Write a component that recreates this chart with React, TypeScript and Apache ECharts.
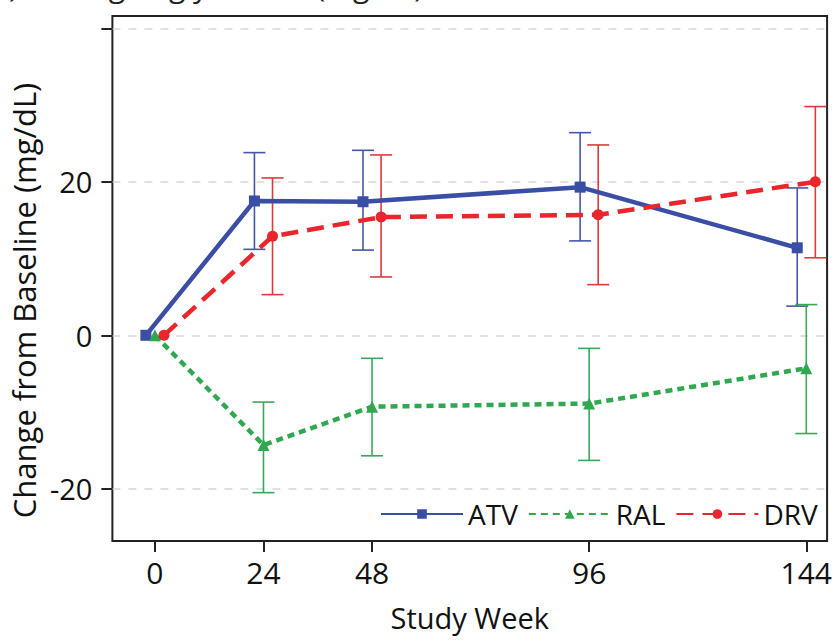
import React, { useEffect, useRef } from "react";
import * as echarts from "echarts";

const weeks = [0, 24, 48, 96, 144];
const seriesNames = ["ATV", "RAL", "DRV"];

const atvMean = [0, 17.5, 17.4, 19.3, 11.4];
const atvLow = [null, 11.2, 11.1, 12.3, 3.8];
const atvHigh = [null, 23.8, 24.1, 26.4, 19.2];

const ralMean = [0, -14.3, -9.3, -8.9, -4.3];
const ralLow = [null, -20.5, -15.7, -16.3, -12.8];
const ralHigh = [null, -8.7, -3.0, -1.7, 4.0];

const drvMean = [0, 12.9, 15.4, 15.7, 20.0];
const drvLow = [null, 5.3, 7.6, 6.6, 10.1];
const drvHigh = [null, 20.5, 23.5, 24.8, 29.8];

const yTicks = [-20, 0, 20, 40];
const yLabels = [-20, 0, 20];

const FONT = '"Open Sans", "Noto Sans", sans-serif';

type Cfg = {
  name: string;
  mean: number[];
  low: (number | null)[];
  high: (number | null)[];
  offset: number;
  color: string;
  errColor: string;
  lineType: any;
  symbol: string;
  symbolSize: number;
};

const cfgs: Cfg[] = [
  { name: seriesNames[0], mean: atvMean, low: atvLow, high: atvHigh, offset: -2, color: "#3b4ea6", errColor: "#4656a8", lineType: "solid", symbol: "rect", symbolSize: 11 },
  { name: seriesNames[1], mean: ralMean, low: ralLow, high: ralHigh, offset: 0, color: "#2fa84f", errColor: "#3aa85a", lineType: [7, 5], symbol: "triangle", symbolSize: 12 },
  { name: seriesNames[2], mean: drvMean, low: drvLow, high: drvHigh, offset: 2, color: "#e8262b", errColor: "#e0383c", lineType: [17, 9], symbol: "circle", symbolSize: 11 },
];

export default function App() {
  const ref = useRef<HTMLDivElement>(null);
  useEffect(() => {
    if (!ref.current) return;
    const chart = echarts.init(ref.current, null, { renderer: "svg" });
    const series: any[] = [];
    cfgs.forEach((c) => {
      const errData: any[] = [];
      weeks.forEach((w, i) => {
        if (c.low[i] != null && c.high[i] != null) errData.push([w + c.offset, c.low[i], c.high[i]]);
      });
      series.push({
        name: c.name + " error",
        type: "custom",
        z: 2,
        silent: true,
        data: errData,
        encode: { x: 0, y: [1, 2] },
        renderItem: (params: any, api: any) => {
          const x = api.value(0);
          const pLo = api.coord([x, api.value(1)]);
          const pHi = api.coord([x, api.value(2)]);
          const hw = 11;
          const style = { stroke: c.errColor, lineWidth: 1.6 };
          return {
            type: "group",
            children: [
              { type: "line", shape: { x1: pLo[0], y1: pLo[1], x2: pHi[0], y2: pHi[1] }, style },
              { type: "line", shape: { x1: pLo[0] - hw, y1: pLo[1], x2: pLo[0] + hw, y2: pLo[1] }, style },
              { type: "line", shape: { x1: pHi[0] - hw, y1: pHi[1], x2: pHi[0] + hw, y2: pHi[1] }, style },
            ],
          };
        },
      });
    });
    cfgs.forEach((c) => {
      series.push({
        name: c.name,
        type: "line",
        z: 3,
        data: weeks.map((w, i) => [w + c.offset, c.mean[i]]),
        symbol: c.symbol,
        symbolSize: c.symbolSize,
        showSymbol: true,
        itemStyle: { color: c.color },
        lineStyle: { color: c.color, width: 4.5, type: c.lineType },
      });
    });

    chart.setOption({
      animation: false,
      backgroundColor: "#ffffff",
      grid: {
        left: 112,
        top: 16,
        right: 3,
        bottom: 100,
        show: true,
        borderColor: "#222",
        borderWidth: 2,
        backgroundColor: "transparent",
      },
      graphic: [
        {
          type: "text",
          x: -10,
          y: -15,
          style: {
            text: "C) Fasting Triglycerides (mg/dL)",
            font: `30px ${FONT}`,
            fill: "#222",
            verticalAlign: "middle",
          },
        },
      ],
      legend: {
        data: seriesNames,
        left: 380,
        top: 500,
        width: 455,
        padding: 0,
        itemWidth: 82,
        itemHeight: 12,
        itemGap: 10,
        itemTextGap: 7,
        textStyle: { fontFamily: FONT, fontSize: 28, color: "#111" },
      },
      xAxis: {
        type: "value",
        min: -9.4,
        max: 148.6,
        name: "Study Week",
        nameLocation: "middle",
        nameGap: 62,
        nameTextStyle: { fontFamily: FONT, fontSize: 29, color: "#111" },
        axisLine: { show: false, onZero: false },
        axisTick: { show: true, inside: false, length: 11, customValues: weeks, lineStyle: { color: "#222", width: 2 } },
        axisLabel: { customValues: weeks, fontFamily: FONT, fontSize: 30, color: "#111", margin: 16 },
        splitLine: { show: false },
      },
      yAxis: {
        type: "value",
        min: -26.8,
        max: 41.6,
        name: "Change from Baseline (mg/dL)",
        nameLocation: "middle",
        nameGap: 68,
        nameTextStyle: { fontFamily: FONT, fontSize: 31, color: "#111", padding: [0, 44, 0, 0] },
        axisLine: { show: false, onZero: false },
        axisTick: { show: true, inside: false, length: 11, customValues: yTicks, lineStyle: { color: "#222", width: 2 } },
        axisLabel: { customValues: yLabels, fontFamily: FONT, fontSize: 29, color: "#111", margin: 20 },
        splitLine: { show: true, lineStyle: { color: "#d8d8d8", width: 1.5, type: [8, 8] } },
      },
      series,
    });
    return () => chart.dispose();
  }, []);
  return (
    <div style={{ position: "absolute", left: 0, top: 0, width: 835, height: 641 }}>
      <div ref={ref} style={{ width: 835, height: 641 }} />
    </div>
  );
}
